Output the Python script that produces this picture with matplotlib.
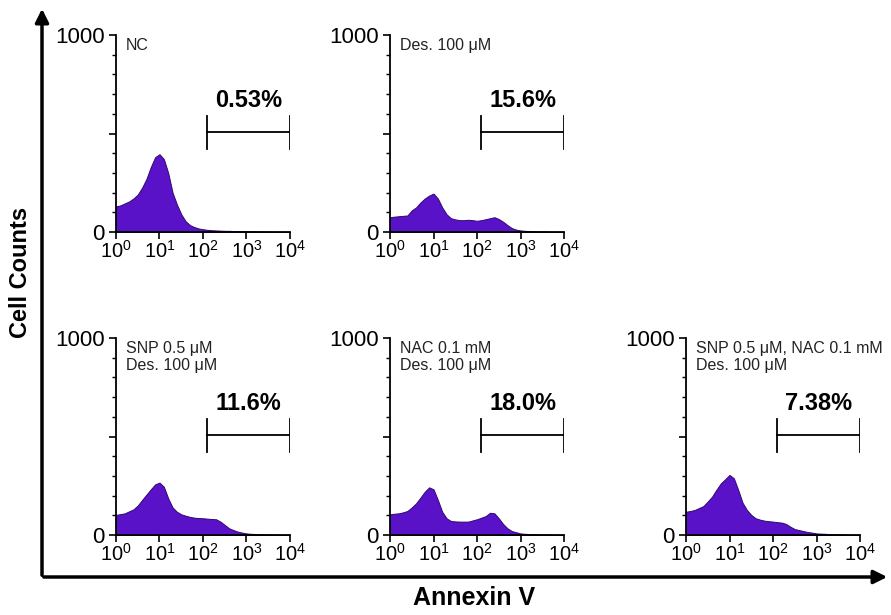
import numpy as np
import matplotlib.pyplot as plt
from matplotlib.patches import FancyArrowPatch
from matplotlib.ticker import FixedLocator, MultipleLocator

plt.rcParams['font.family'] = ['Liberation Sans', 'DejaVu Sans']
plt.rcParams['mathtext.fontset'] = 'custom'
plt.rcParams['mathtext.rm'] = 'Liberation Sans'
plt.rcParams['mathtext.it'] = 'Liberation Sans'

# channel positions (log10 of Annexin V intensity), 0.1 decade apart
log_channel = np.arange(41) / 10.0

# cell counts
counts_nc = [130, 135, 145, 155, 170, 190, 225, 270, 330, 380, 395, 370, 300, 200, 140, 90,
             55, 35, 25, 18, 14, 11, 9, 8, 7, 6, 6, 5, 5, 5, 4, 4, 3, 3, 2, 2, 1, 1, 1, 0, 0]
counts_des = [75, 78, 80, 82, 84, 110, 125, 150, 170, 185, 195, 170, 125, 90, 70, 64,
              60, 60, 62, 60, 57, 60, 65, 70, 75, 66, 52, 35, 20, 12, 8, 6, 5, 4, 3, 3, 2, 1, 1, 0, 0]
counts_snp = [102, 106, 110, 120, 130, 150, 178, 205, 232, 257, 266, 245, 186, 140, 118, 105,
              98, 92, 88, 86, 85, 83, 81, 80, 68, 51, 34, 25, 17, 12, 8, 6, 5, 4, 3, 2, 2, 1, 1, 0, 0]
counts_nac = [105, 108, 110, 115, 122, 140, 161, 190, 220, 242, 232, 178, 118, 85, 71, 69,
              68, 68, 68, 74, 80, 88, 96, 113, 110, 85, 56, 34, 20, 14, 8, 6, 5, 4, 3, 2, 2, 1, 1, 0, 0]
counts_both = [118, 122, 127, 137, 147, 170, 195, 230, 262, 283, 305, 288, 229, 164, 127, 102,
               85, 78, 73, 70, 68, 65, 63, 56, 42, 30, 25, 20, 15, 12, 8, 7, 6, 4, 3, 3, 2, 1, 1, 0, 0]

panel_labels = ["NC", "Des. 100 \u03bcM", "SNP 0.5 \u03bcM\nDes. 100 \u03bcM",
                "NAC 0.1 mM\nDes. 100 \u03bcM", "SNP 0.5 \u03bcM, NAC 0.1 mM\nDes. 100 \u03bcM"]
percent_labels = ["0.53%", "15.6%", "11.6%", "18.0%", "7.38%"]
all_counts = [counts_nc, counts_des, counts_snp, counts_nac, counts_both]
xtick_labels = [r'$10^{0}$', r'$10^{1}$', r'$10^{2}$', r'$10^{3}$', r'$10^{4}$']

gate_lo, gate_hi, gate_y = 10 ** 2.1, 1e4, 510

fig = plt.figure(figsize=(8.91, 6.15), dpi=100)

W, H = 891, 615
boxes = [(116, 35), (390, 35), (116, 338), (390, 338), (686, 338)]  # (left px, top px)
aw, ah = 174, 197

for (px, py), counts, lab, pct in zip(boxes, all_counts, panel_labels, percent_labels):
    ax = fig.add_axes([px / W, (H - py - ah) / H, aw / W, ah / H])
    x = 10 ** log_channel
    ax.fill_between(x, counts, 0, facecolor='#5a12c8', edgecolor='#2e0870', linewidth=0.7)
    ax.set_xscale('log')
    ax.set_xlim(1, 1e4)
    ax.set_ylim(0, 1000)
    for s in ('top', 'right'):
        ax.spines[s].set_visible(False)
    for s in ('left', 'bottom'):
        ax.spines[s].set_linewidth(1.3)
    ax.xaxis.set_major_locator(FixedLocator([1, 10, 100, 1000, 10000]))
    ax.xaxis.set_minor_locator(FixedLocator([]))
    ax.set_xticklabels(xtick_labels)
    ax.yaxis.set_major_locator(FixedLocator([0, 500, 1000]))
    ax.yaxis.set_minor_locator(MultipleLocator(100))
    ax.set_yticklabels(['0', '', '1000'])
    ax.tick_params(axis='x', which='major', length=5, width=1.2, labelsize=14.5, pad=1)
    ax.tick_params(axis='y', which='major', length=5, width=1.2, labelsize=16, pad=3)
    ax.tick_params(axis='y', which='minor', length=3, width=1.0)

    ax.text(0.055, 0.985, lab, transform=ax.transAxes, fontsize=11.5, va='top', ha='left',
            color='#222222', linespacing=1.2)
    # gate bracket
    ax.plot([gate_lo, gate_hi], [gate_y, gate_y], color='black', lw=1.3)
    ax.plot([gate_lo, gate_lo], [420, 590], color='black', lw=1.3)
    ax.plot([gate_hi, gate_hi], [420, 590], color='black', lw=1.3)
    ax.text(10 ** 3.05, 665, pct, fontsize=17, fontweight='bold', ha='center', va='center',
            clip_on=False)

# outer axes arrows
fig.patches.append(FancyArrowPatch(
    (42 / W, 1 - 578 / H), (42 / W, 1 - 6 / H), transform=fig.transFigure,
    arrowstyle='-|>,head_length=8,head_width=4', color='black', lw=2.5))
fig.patches.append(FancyArrowPatch(
    (41 / W, 1 - 577 / H), (890 / W, 1 - 577 / H), transform=fig.transFigure,
    arrowstyle='-|>,head_length=8,head_width=4', color='black', lw=2.5))

fig.text(21 / W, 1 - 272 / H, 'Cell Counts', rotation=90, fontsize=17, fontweight='bold',
         ha='center', va='center')
fig.text(474 / W, 1 - 598 / H, 'Annexin V', fontsize=18, fontweight='bold',
         ha='center', va='center')

fig.savefig('out.png', dpi=100)
